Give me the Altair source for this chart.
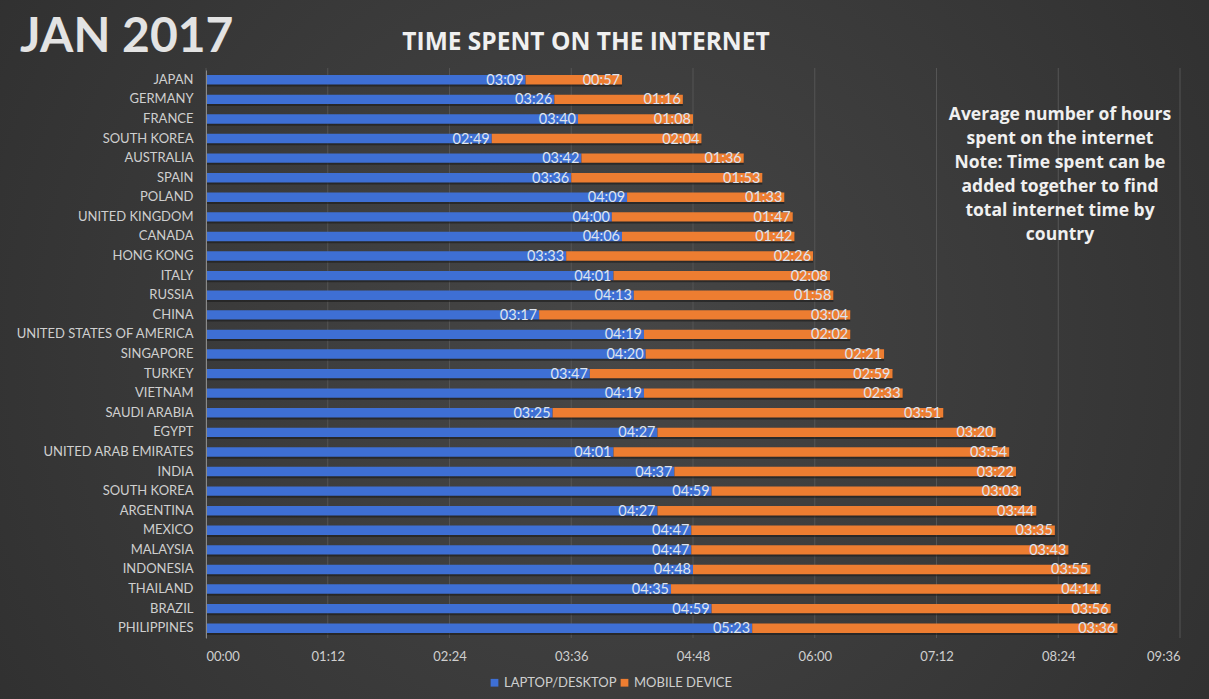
import altair as alt
import pandas as pd

countries = ["JAPAN", "GERMANY", "FRANCE", "SOUTH KOREA", "AUSTRALIA", "SPAIN", "POLAND",
             "UNITED KINGDOM", "CANADA", "HONG KONG", "ITALY", "RUSSIA", "CHINA",
             "UNITED STATES OF AMERICA", "SINGAPORE", "TURKEY", "VIETNAM", "SAUDI ARABIA",
             "EGYPT", "UNITED ARAB EMIRATES", "INDIA", "SOUTH KOREA", "ARGENTINA", "MEXICO",
             "MALAYSIA", "INDONESIA", "THAILAND", "BRAZIL", "PHILIPPINES"]
laptop = ["03:09", "03:26", "03:40", "02:49", "03:42", "03:36", "04:09", "04:00", "04:06",
          "03:33", "04:01", "04:13", "03:17", "04:19", "04:20", "03:47", "04:19", "03:25",
          "04:27", "04:01", "04:37", "04:59", "04:27", "04:47", "04:47", "04:48", "04:35",
          "04:59", "05:23"]
mobile = ["00:57", "01:16", "01:08", "02:04", "01:36", "01:53", "01:33", "01:47", "01:42",
          "02:26", "02:08", "01:58", "03:04", "02:02", "02:21", "02:59", "02:33", "03:51",
          "03:20", "03:54", "03:22", "03:03", "03:44", "03:35", "03:43", "03:55", "04:14",
          "03:56", "03:36"]
series = ["LAPTOP/DESKTOP", "MOBILE DEVICE"]
colors = ["#3E6FD4", "#ED7D31"]
tick_minutes = [0, 72, 144, 216, 288, 360, 432, 504, 576]
note_lines = ["Average number of hours", "spent on the internet", "Note: Time spent can be",
              "added together to find", "total internet time by", "country"]


def mins(s):
    h, m = s.split(":")
    return int(h) * 60 + int(m)


rows = []
for i, (c, l, m) in enumerate(zip(countries, laptop, mobile)):
    lm, mm = mins(l), mins(m)
    rows.append({"row": i, "country": c, "series": series[0], "start": 0, "end": lm, "label": l})
    rows.append({"row": i, "country": c, "series": series[1], "start": lm, "end": lm + mm, "label": m})
df = pd.DataFrame(rows)
ticks_df = pd.DataFrame({"m": tick_minutes})

W, H = 974, 568
TOP = 70
FONT = "Lato"
label_arr = "[" + ",".join("'" + c + "'" for c in countries) + "]"

y_scale = alt.Scale(paddingInner=0.52, paddingOuter=0.26)
y_enc = alt.Y("row:O", scale=y_scale,
              axis=alt.Axis(title=None, labelExpr=label_arr + "[datum.value]",
                            labelColor="#cfcfcf", labelFontSize=13, labelFont=FONT,
                            ticks=False, domain=True, domainColor="#8a8a8a", labelPadding=13,
                            grid=False, zindex=1))
x_scale = alt.Scale(domain=[0, 576], nice=False)
x_axis = alt.Axis(title=None, values=tick_minutes,
                  labelExpr="(floor(datum.value/60)<10?'0':'')+floor(datum.value/60)+':'+(datum.value%60<10?'0':'')+(datum.value%60)",
                  labelColor="#cfcfcf", labelFontSize=13, labelFont=FONT, ticks=False,
                  domain=False, grid=False, labelPadding=12, zindex=1)

base = alt.Chart(df)

bg = alt.Chart(pd.DataFrame({"a": [0]})).mark_rect(
    color=alt.Gradient(gradient="radial", x1=0.5, y1=0.5, x2=0.5, y2=0.5, r1=0, r2=0.75,
                       stops=[alt.GradientStop(color="#474747", offset=0),
                              alt.GradientStop(color="#2a2a2a", offset=1)])
).encode(x=alt.value(-206), x2=alt.value(W + 35), y=alt.value(-TOP), y2=alt.value(699 - TOP))

grid = alt.Chart(ticks_df).mark_rule(color="#555555", strokeWidth=1).encode(
    x=alt.X("m:Q", scale=x_scale, axis=x_axis), y=alt.value(-2), y2=alt.value(H))

shadow = base.mark_bar(color="#1a1a1a", opacity=0.6).encode(
    x=alt.X("start:Q", scale=x_scale), x2="end:Q",
    y=y_enc, yOffset=alt.value(2))

bars = base.mark_bar().encode(
    x=alt.X("start:Q", scale=x_scale), x2="end:Q",
    y=y_enc,
    color=alt.Color("series:N", scale=alt.Scale(domain=series, range=colors),
                    legend=alt.Legend(title=None, orient="none", direction="horizontal",
                                      legendX=282, legendY=606, symbolType="square",
                                      symbolSize=60, symbolStrokeWidth=0,
                                      labelColor="#cfcfcf", labelFontSize=13,
                                      labelFont=FONT, columnPadding=1, symbolOffset=0,
                                      labelOffset=3)))

labels = base.mark_text(align="right", baseline="middle", dx=-2, dy=1, fontSize=14.5,
                        font=FONT, color="#dde3ee").encode(
    x=alt.X("end:Q", scale=x_scale), y=y_enc, text="label:N")

title1 = alt.Chart(pd.DataFrame({"t": ["JAN 2017"]})).mark_text(
    align="left", baseline="alphabetic", fontSize=48, fontWeight="bold", font=FONT,
    color="#e3e3e3").encode(x=alt.value(-186), y=alt.value(52 - TOP), text="t:N")
title2 = alt.Chart(pd.DataFrame({"t": ["TIME SPENT ON THE INTERNET"]})).mark_text(
    align="center", baseline="alphabetic", fontSize=24.5, fontWeight="bold", font="Open Sans",
    color="#f0f0f0").encode(x=alt.value(380), y=alt.value(50 - TOP), text="t:N")

note = alt.Chart(pd.DataFrame({"t": ["\n".join(note_lines)]})).mark_text(
    align="center", baseline="middle", fontSize=17.5, fontWeight="bold", font="Open Sans",
    lineBreak="\n", lineHeight=24,
    color="#f0f0f0").encode(x=alt.value(854), y=alt.value(115 - TOP), text="t:N")

chart = alt.layer(bg, grid, shadow, bars, labels, title1, title2, note).properties(
    width=W, height=H,
    autosize=alt.AutoSizeParams(type="none"),
    padding={"left": 206, "top": TOP, "right": 29, "bottom": 699 - TOP - H},
    background="#333333"
).configure_view(stroke=None)

chart.save("out.html", embed_options={"renderer": "svg", "actions": False})
